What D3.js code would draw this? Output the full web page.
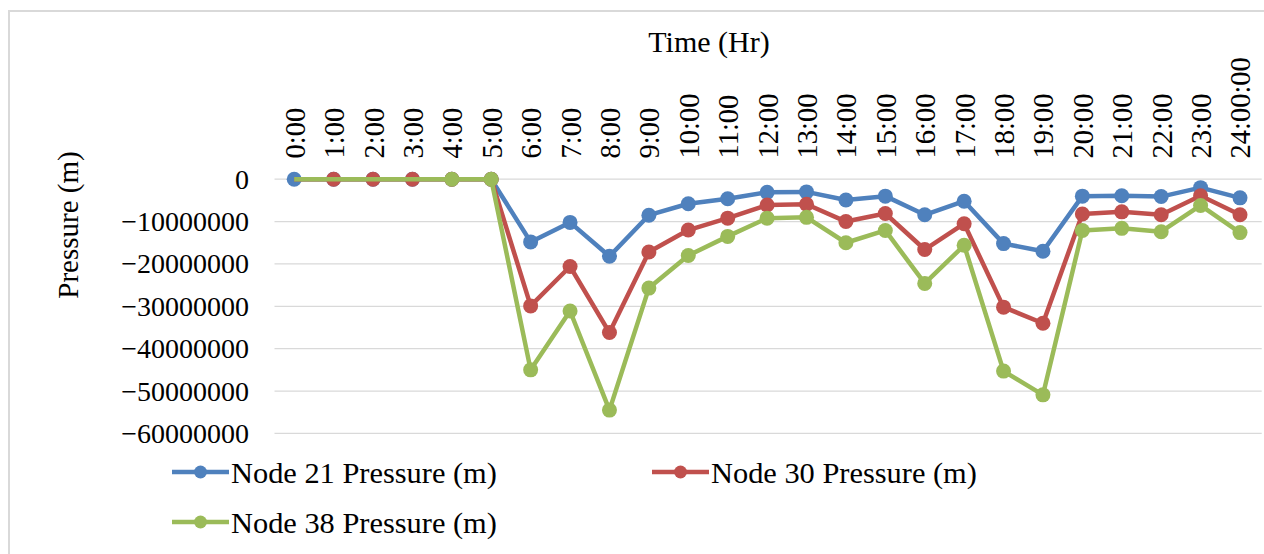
<!DOCTYPE html>
<html>
<head>
<meta charset="utf-8">
<script src="https://cdn.jsdelivr.net/npm/d3@7"></script>
<style>
  html, body { margin: 0; padding: 0; background: #fff; }
  svg { display: block; }
  text { font-family: "Liberation Serif", "Times New Roman", serif; fill: #000; }
</style>
</head>
<body>
<svg id="chart" width="1264" height="554"></svg>
<script>
// Hourly time labels
const hours = ["0:00","1:00","2:00","3:00","4:00","5:00","6:00","7:00","8:00","9:00","10:00","11:00","12:00",
  "13:00","14:00","15:00","16:00","17:00","18:00","19:00","20:00","21:00","22:00","23:00","24:00:00"];

// Pressure at each node (m)
const node21 = [0,0,0,0,0,0,-14800000,-10200000,-18200000,-8500000,-5800000,-4600000,-3100000,-3000000,
  -4900000,-4000000,-8400000,-5200000,-15200000,-17000000,-4000000,-3900000,-4100000,-2000000,-4400000];
const node30 = [0,0,0,0,0,0,-29900000,-20600000,-36200000,-17200000,-12000000,-9200000,-6100000,-5900000,
  -10000000,-8100000,-16600000,-10500000,-30200000,-34000000,-8200000,-7700000,-8400000,-3900000,-8400000];
const node38 = [0,0,0,0,0,0,-45000000,-31100000,-54500000,-25700000,-18000000,-13500000,-9200000,-9000000,
  -15000000,-12100000,-24600000,-15600000,-45300000,-50900000,-12100000,-11600000,-12400000,-6200000,-12600000];

const seriesNames = ["Node 21 Pressure (m)", "Node 30 Pressure (m)", "Node 38 Pressure (m)"];
const seriesColors = ["#4F81BD", "#C0504D", "#9BBB59"];
// first hour at which each series' marker sits above the ones drawn before it
const markerStart = [0, 1, 4];

const yTicks = [0,-10000000,-20000000,-30000000,-40000000,-50000000,-60000000];

const svg = d3.select("#chart");

// outer chart border
svg.append("rect")
  .attr("x", 9).attr("y", 11).attr("width", 1262).attr("height", 560)
  .attr("fill", "none").attr("stroke", "#d9d9d9").attr("stroke-width", 2);

const plot = { left: 274.5, right: 1259.7, top: 179.2, bottom: 433.4 };

const x = d3.scalePoint().domain(hours).range([plot.left, plot.right]).padding(0.5);
const y = d3.scaleLinear().domain([-60000000, 0]).range([plot.bottom, plot.top]);

// horizontal gridlines
svg.append("g").selectAll("line").data(yTicks).join("line")
  .attr("x1", plot.left).attr("x2", plot.right + 2)
  .attr("y1", d => y(d)).attr("y2", d => y(d))
  .attr("stroke", "#d9d9d9").attr("stroke-width", 1.3);

// y axis labels
const yAxis = d3.axisLeft(y).tickValues(yTicks).tickFormat(d3.format("d")).tickSize(0).tickPadding(0);
const gy = svg.append("g").attr("transform", `translate(249,0)`).call(yAxis);
gy.select(".domain").remove();
gy.selectAll("text").attr("font-size", 28).attr("font-family", "Liberation Serif").attr("fill", "#000");

// x axis labels (rotated, above the plot)
const xAxis = d3.axisTop(x).tickSize(0).tickPadding(0);
const gx = svg.append("g").attr("transform", `translate(0,158.5)`).call(xAxis);
gx.select(".domain").remove();
gx.selectAll("text")
  .attr("font-size", 28.5).attr("font-family", "Liberation Serif").attr("fill", "#000")
  .attr("transform", "rotate(-90)")
  .attr("text-anchor", "start")
  .attr("x", 0).attr("y", 0).attr("dy", "0.35em");

// axis titles
svg.append("text").attr("x", 709).attr("y", 52).attr("text-anchor", "middle")
  .attr("font-size", 30).text("Time (Hr)");
svg.append("text").attr("transform", "translate(78,225) rotate(-90)").attr("text-anchor", "middle")
  .attr("font-size", 29).text("Pressure (m)");

// series lines and markers
const allSeries = [node21, node30, node38];
const line = d3.line().x((d, i) => x(hours[i])).y(d => y(d));

allSeries.forEach((vals, s) => {
  const g = svg.append("g");
  g.append("path").datum(vals).attr("d", line)
    .attr("fill", "none").attr("stroke", seriesColors[s]).attr("stroke-width", 4.5)
    .attr("stroke-linejoin", "round");
  g.selectAll("circle").data(vals.map((v, i) => ({ v, i })).filter(d => d.i >= markerStart[s]))
    .join("circle")
    .attr("cx", d => x(hours[d.i])).attr("cy", d => y(d.v)).attr("r", 7.5)
    .attr("fill", seriesColors[s]);
});

// legend
const legendPos = [[172, 472], [652, 472], [172, 522]];
seriesNames.forEach((name, s) => {
  const [lx, ly] = legendPos[s];
  const g = svg.append("g");
  g.append("line").attr("x1", lx).attr("x2", lx + 57).attr("y1", ly).attr("y2", ly)
    .attr("stroke", seriesColors[s]).attr("stroke-width", 4.5);
  g.append("circle").attr("cx", lx + 28.5).attr("cy", ly).attr("r", 6.5).attr("fill", seriesColors[s]);
  g.append("text").attr("x", lx + 59).attr("y", ly).attr("dy", "0.35em")
    .attr("font-size", 30.4).text(name);
});
</script>
</body>
</html>
